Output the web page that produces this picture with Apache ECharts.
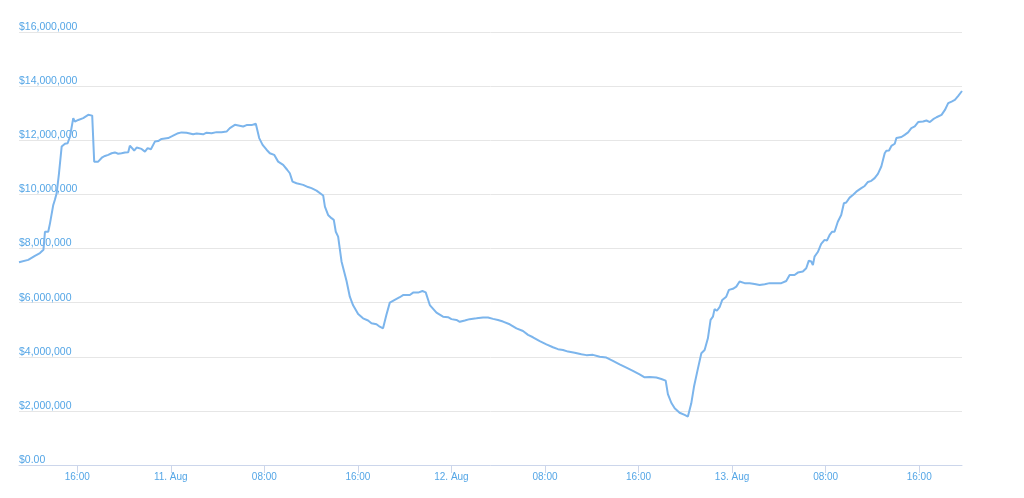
<!DOCTYPE html>
<html>
<head>
<meta charset="utf-8">
<script src="https://cdn.jsdelivr.net/npm/echarts@6/dist/echarts.min.js"></script>
<style>html,body{margin:0;padding:0;background:#fff}#c{width:1024px;height:498px}</style>
</head>
<body>
<div id="c"></div>
<script>
// hours since 10 Aug 00:00
var hours = [11.02,11.81,12.38,12.81,12.96,13.11,13.24,13.52,13.67,13.81,13.95,14.09,14.24,14.44,14.67,14.95,15.18,15.38,15.66,15.80,16.09,16.23,16.51,16.94,17.09,17.28,17.45,17.79,18.14,18.37,18.65,18.94,19.22,19.50,19.79,20.08,20.36,20.50,20.65,20.87,21.08,21.50,21.79,22.02,22.30,22.64,22.92,23.21,23.78,24.07,24.63,24.92,25.35,25.91,26.21,26.77,27.06,27.49,27.91,28.34,28.77,29.05,29.48,29.62,30.19,30.48,30.91,31.27,31.38,31.56,31.85,32.19,32.47,32.84,33.18,33.61,33.95,34.18,34.41,34.75,35.32,35.74,36.03,36.46,37.03,37.18,37.45,37.74,37.94,38.11,38.31,38.60,39.03,39.31,39.59,40.02,40.44,40.87,41.16,41.59,41.87,42.15,42.44,42.73,43.15,43.58,43.86,44.44,44.72,45.15,45.52,45.80,46.15,46.72,47.28,47.71,48.00,48.43,48.71,49.14,49.56,50.14,50.70,51.13,51.56,51.98,52.41,52.98,53.56,54.12,54.55,54.97,55.55,56.12,56.68,57.11,57.54,57.97,58.54,59.11,59.54,60.10,60.68,61.25,61.81,62.38,62.96,63.52,64.09,64.52,64.95,65.52,65.95,66.32,66.51,66.80,67.09,67.51,67.94,68.22,68.51,68.74,69.08,69.37,69.65,69.93,70.16,70.36,70.50,70.70,70.93,71.16,71.50,71.73,72.07,72.36,72.64,73.07,73.50,73.92,74.35,74.79,75.21,75.78,76.21,76.63,76.92,77.34,77.62,78.05,78.34,78.56,78.77,78.91,79.05,79.33,79.62,79.91,80.11,80.34,80.56,80.76,81.04,81.33,81.56,81.76,82.05,82.33,82.62,83.05,83.34,83.62,83.91,84.19,84.47,84.76,85.05,85.19,85.42,85.62,85.91,86.05,86.48,86.76,87.05,87.33,87.62,87.91,88.33,88.62,88.91,89.20,89.48,89.91,90.20,90.48,90.77,91.05,91.34,91.66];
// values in millions of dollars
var valuesM = [7.49,7.58,7.73,7.83,7.80,7.95,8.62,8.62,8.93,8.93,9.61,9.80,10.04,10.78,11.77,11.87,11.89,12.14,12.82,12.69,12.75,12.69,12.82,12.94,12.90,12.91,11.21,11.21,11.37,11.42,11.46,11.52,11.55,11.50,11.52,11.55,11.56,11.80,11.73,11.62,11.73,11.68,11.58,11.71,11.67,11.95,11.97,12.05,12.08,12.14,12.26,12.29,12.28,12.22,12.25,12.22,12.28,12.26,12.30,12.30,12.32,12.45,12.57,12.51,12.51,12.56,12.56,12.61,12.58,12.08,11.83,11.65,11.52,11.46,11.21,11.09,10.91,10.78,10.47,10.41,10.35,10.27,10.23,10.14,9.96,9.55,9.24,9.12,9.06,8.62,8.44,7.52,6.80,6.22,5.90,5.58,5.42,5.34,5.24,5.20,5.11,5.05,5.55,6.00,6.10,6.20,6.28,6.28,6.37,6.37,6.43,6.38,5.91,5.63,5.48,5.46,5.39,5.36,5.29,5.34,5.39,5.42,5.45,5.45,5.40,5.36,5.30,5.20,5.05,4.95,4.81,4.72,4.58,4.46,4.35,4.28,4.25,4.19,4.15,4.09,4.06,4.07,4.00,3.97,3.85,3.72,3.60,3.48,3.35,3.24,3.25,3.23,3.18,3.12,2.62,2.30,2.10,1.93,1.85,1.79,2.28,2.89,3.57,4.13,4.25,4.68,5.36,5.48,5.76,5.70,5.83,6.10,6.22,6.47,6.51,6.59,6.78,6.72,6.72,6.69,6.65,6.68,6.72,6.72,6.72,6.80,7.02,7.02,7.11,7.15,7.27,7.55,7.52,7.39,7.70,7.87,8.17,8.32,8.29,8.50,8.62,8.62,8.99,9.24,9.67,9.70,9.88,9.98,10.10,10.23,10.31,10.46,10.50,10.60,10.76,11.03,11.52,11.61,11.62,11.79,11.87,12.08,12.12,12.20,12.29,12.45,12.51,12.67,12.69,12.73,12.67,12.78,12.85,12.94,13.12,13.37,13.43,13.49,13.64,13.82];
var tickHours = [16,24,32,40,48,56,64,72,80,88];
var dayLabels = {24:'11. Aug', 48:'12. Aug', 72:'13. Aug'};
var yTicks = [0,2000000,4000000,6000000,8000000,10000000,12000000,14000000,16000000];

var data = hours.map(function(h,i){ return [h, Math.round(valuesM[i]*1000000)]; });
var labelColor = '#55a6e6';
var chart = echarts.init(document.getElementById('c'), null, {renderer:'canvas'});
chart.setOption({
  animation:false,
  grid:{left:19, right:62, top:32, bottom:33, containLabel:false},
  xAxis:{
    type:'value', min:hours[0], max:hours[hours.length-1],
    axisLine:{show:true, lineStyle:{color:'#ccd6eb', width:1}},
    axisTick:{show:true, customValues:tickHours, length:8, lineStyle:{color:'#ccd6eb'}},
    axisLabel:{customValues:tickHours, color:labelColor, fontSize:10, fontFamily:'Liberation Sans, Arial, sans-serif', margin:7,
      formatter:function(v){ var r=Math.round(v); if(dayLabels[r]) return dayLabels[r]; var hh=r%24; return (hh<10?'0':'')+hh+':00'; }},
    splitLine:{show:false}
  },
  yAxis:{
    type:'value', min:yTicks[0], max:yTicks[yTicks.length-1], interval:2000000,
    axisLine:{show:false}, axisTick:{show:false},
    splitLine:{show:true, lineStyle:{color:'#e6e6e6', width:1}},
    axisLabel:{inside:true, margin:0, verticalAlign:'bottom', lineHeight:10, padding:[0,0,0,0], color:labelColor, fontSize:10.5, fontFamily:'Liberation Sans, Arial, sans-serif',
      formatter:function(v){ if(v===0) return '$0.00'; return '$'+v.toLocaleString('en-US'); }}
  },
  series:[{type:'line', data:data, showSymbol:false, symbol:'none', smooth:false,
    lineStyle:{color:'#7cb5ec', width:2}, itemStyle:{color:'#7cb5ec'}}]
});
</script>
</body>
</html>
